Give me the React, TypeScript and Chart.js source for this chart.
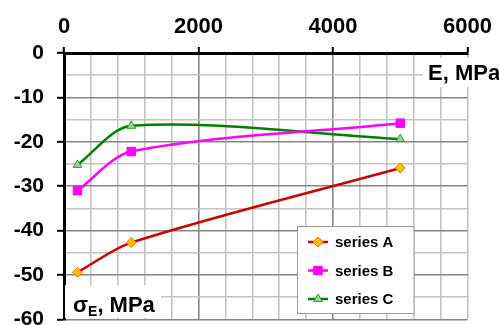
import { useEffect, useRef } from 'react';
import { Chart, registerables } from 'chart.js';

Chart.register(...registerables);

// ---- data ----
const eValues = [200, 1000, 5000];
const seriesA = [-49.4, -42.7, -25.9];
const seriesB = [-31.0, -22.2, -15.8];
const seriesC = [-25.2, -16.4, -19.4];
const seriesLabels = ['series A', 'series B', 'series C'];
const xTickLabels = [0, 2000, 4000, 6000];
const yTickLabels = [0, -10, -20, -30, -40, -50, -60];
const xTitle = 'E, MPa';
const yTitleSymbol = 'σ';
const yTitleSub = 'E';
const yTitleRest = ', MPa';

const W = 499;
const H = 345;
const FONT = 'Arial, "Liberation Sans", sans-serif';

const MAJOR = '#858585';
const MINOR = '#c4c4c4';

function drawMarker(ctx: CanvasRenderingContext2D, style: string, x: number, y: number, r: number, fill: string, stroke: string) {
  ctx.beginPath();
  if (style === 'rectRot') {
    ctx.moveTo(x - r, y);
    ctx.lineTo(x, y - r);
    ctx.lineTo(x + r, y);
    ctx.lineTo(x, y + r);
    ctx.closePath();
  } else if (style === 'rect') {
    const s = r * Math.SQRT1_2;
    ctx.rect(x - s, y - s, 2 * s, 2 * s);
  } else {
    ctx.moveTo(x, y - r);
    ctx.lineTo(x + r * Math.sin(Math.PI / 3), y + r * 0.5);
    ctx.lineTo(x - r * Math.sin(Math.PI / 3), y + r * 0.5);
    ctx.closePath();
  }
  ctx.fillStyle = fill;
  ctx.fill();
  ctx.lineWidth = 1;
  ctx.strokeStyle = stroke;
  ctx.stroke();
}

const overlayPlugin = {
  id: 'overlay',
  afterDraw(chart: any) {
    const ctx: CanvasRenderingContext2D = chart.ctx;
    ctx.save();
    // axis titles with white background
    ctx.fillStyle = '#fff';
    ctx.fillRect(423, 58, 80, 29);
    ctx.fillRect(65, 285, 96, 33);
    ctx.fillStyle = '#000';
    ctx.textBaseline = 'alphabetic';
    ctx.textAlign = 'left';
    ctx.font = `bold 22px ${FONT}`;
    ctx.fillText(xTitle, 428, 80);
    let x = 73;
    ctx.fillText(yTitleSymbol, x, 312);
    x += ctx.measureText(yTitleSymbol).width;
    ctx.font = `bold 14px ${FONT}`;
    ctx.fillText(yTitleSub, x, 316);
    x += ctx.measureText(yTitleSub).width;
    ctx.font = `bold 22px ${FONT}`;
    ctx.fillText(yTitleRest, x, 312);

    // legend
    const bx = 297.5, by = 226.5, bw = 116.5, bh = 87;
    ctx.fillStyle = '#fff';
    ctx.fillRect(bx, by, bw, bh);
    ctx.strokeStyle = '#9a9a9a';
    ctx.lineWidth = 1;
    ctx.strokeRect(bx, by, bw, bh);
    const rows = [242, 270.5, 299];
    chart.data.datasets.forEach((ds: any, i: number) => {
      const yy = rows[i];
      ctx.beginPath();
      ctx.moveTo(308, yy);
      ctx.lineTo(328, yy);
      ctx.strokeStyle = ds.borderColor;
      ctx.lineWidth = 2.5;
      ctx.stroke();
      drawMarker(ctx, ds.pointStyle, 318, yy, ds.pointRadius, ds.pointBackgroundColor, ds.pointBorderColor);
      ctx.fillStyle = '#000';
      ctx.font = `bold 15px ${FONT}`;
      ctx.textBaseline = 'middle';
      ctx.fillText(ds.label, 335, yy + 1);
    });
    ctx.restore();
  },
};

export default function App() {
  const ref = useRef<HTMLCanvasElement>(null);
  useEffect(() => {
    if (!ref.current) return;
    const mk = (vals: number[]) => eValues.map((x, i) => ({ x, y: vals[i] }));
    const chart = new Chart(ref.current, {
      type: 'line',
      data: {
        datasets: [
          {
            label: seriesLabels[0],
            data: mk(seriesA),
            borderColor: '#cc0000',
            pointBackgroundColor: '#ffc000',
            pointBorderColor: '#ff7000',
            pointStyle: 'rectRot',
            pointRadius: 5,
            pointBorderWidth: 1,
            borderWidth: 2.5,
            tension: 0.3,
          },
          {
            label: seriesLabels[1],
            data: mk(seriesB),
            borderColor: '#ff00ff',
            pointBackgroundColor: '#ff00ff',
            pointBorderColor: '#ff00ff',
            pointStyle: 'rect',
            pointRadius: 6,
            pointBorderWidth: 1,
            borderWidth: 2.5,
            tension: 0.3,
          },
          {
            label: seriesLabels[2],
            data: mk(seriesC),
            borderColor: '#008000',
            pointBackgroundColor: '#9bd49b',
            pointBorderColor: '#2e9a2e',
            pointStyle: 'triangle',
            pointRadius: 5,
            pointBorderWidth: 1,
            borderWidth: 2.5,
            tension: 0.3,
          },
        ] as any,
      },
      options: {
        responsive: false,
        animation: false,
        devicePixelRatio: 1,
        layout: { padding: { left: 0, right: 30, top: 0, bottom: 21.5 } },
        plugins: { legend: { display: false }, tooltip: { enabled: false } },
        scales: {
          x: {
            type: 'linear',
            position: 'top',
            min: 0,
            max: 6000,
            ticks: {
              stepSize: 400,
              autoSkip: false,
              maxRotation: 0,
              padding: 7,
              color: '#000',
              font: { family: FONT, size: 22, weight: 'bold' },
              callback: (v: any) => (xTickLabels.includes(v) ? String(v) : ''),
            },
            grid: {
              color: (c: any) => (c.tick && c.tick.value % 2000 === 0 && c.tick.value !== 6000 ? MAJOR : MINOR),
              lineWidth: 1.6,
              tickLength: 6,
              tickWidth: 2,
              tickColor: (c: any) => (c.tick && xTickLabels.includes(c.tick.value) ? '#000' : 'rgba(0,0,0,0)'),
            },
            border: { display: true, color: '#000', width: 3 },
            afterFit: (s: any) => {
              s.height = 53;
            },
          },
          y: {
            min: -60,
            max: 0,
            ticks: {
              stepSize: 5,
              autoSkip: false,
              padding: 13,
              color: '#000',
              font: { family: FONT, size: 21, weight: 'bold' },
              callback: (v: any) => (yTickLabels.includes(v) ? String(v) : ''),
            },
            grid: {
              color: (c: any) => (c.tick && c.tick.value % 10 === 0 && c.tick.value !== 0 ? MAJOR : MINOR),
              lineWidth: 1.6,
              tickLength: 7,
              tickWidth: 2,
              tickColor: (c: any) => (c.tick && yTickLabels.includes(c.tick.value) ? '#000' : 'rgba(0,0,0,0)'),
            },
            border: { display: true, color: '#000', width: 3 },
            afterFit: (s: any) => {
              s.width = 64;
            },
          },
        },
      } as any,
      plugins: [overlayPlugin],
    });
    return () => chart.destroy();
  }, []);

  return (
    <div style={{ position: 'fixed', left: 0, top: 0, width: W, height: 325, overflow: 'hidden', background: '#fff' }}>
      <canvas ref={ref} width={W} height={H} style={{ display: 'block', width: W, height: H }} />
    </div>
  );
}
